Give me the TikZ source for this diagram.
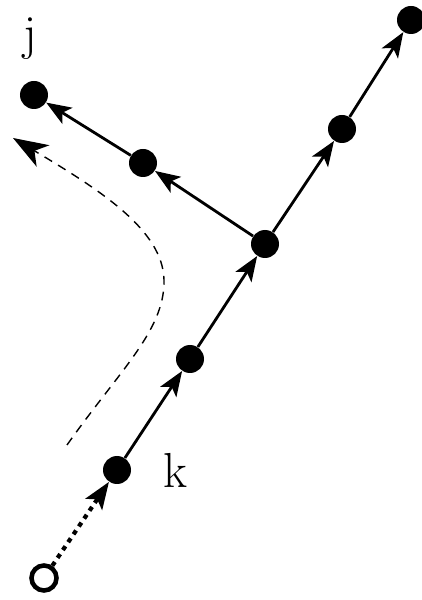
\documentclass[tikz,border=0pt]{standalone}
\usepackage{tikz}
\usetikzlibrary{arrows.meta}

\begin{document}
\begin{tikzpicture}[
    dot/.style={
        circle,
        fill=black,
        inner sep=0pt,
        minimum size=0.56cm
    },
    opendot/.style={
        circle,
        draw=black,
        line width=2.6pt,
        inner sep=0pt,
        minimum size=0.5cm
    },
    lbl/.style={
        font=\fontsize{28}{30}\selectfont
    },
    arrow/.style={-{Stealth[length=5mm, width=3.8mm, inset=1.2mm]}, line width=1.6pt},
    dotarrow/.style={-{Stealth[length=5.4mm, width=4mm, inset=1.2mm]}, line width=2.4pt,
        dash pattern=on 2.6pt off 2.8pt},
    path/.style={-{Stealth[length=7mm, width=5mm, inset=2mm, fill=black]}, line width=0.8pt,
        dash pattern=on 5pt off 4pt}
]
\useasboundingbox (0,0) rectangle (8.42,12);

% main chain
\node[opendot] (o) at (0.88,0.44) {};
\node[dot] (k) at (2.34,2.6) {};
\node[dot] (mid) at (3.8,4.82) {};
\node[dot] (hub) at (5.3,7.12) {};
\node[dot] (upper) at (6.84,9.42) {};
\node[dot] (top) at (8.22,11.6) {};

% side branch
\node[dot] (side) at (2.86,8.74) {};
\node[dot] (j) at (0.68,10.1) {};

\node[lbl] (jlabel) at (0.6,11.22) {j};
\node[lbl] (klabel) at (3.5,2.6) {k};

\draw[dotarrow] (o) -- (k);
\draw[arrow] (k) -- (mid);
\draw[arrow] (mid) -- (hub);
\draw[arrow] (hub) -- (upper);
\draw[arrow] (upper) -- (top);
\draw[arrow] (hub) -- (side);
\draw[arrow] (side) -- (j);

% path taken
\coordinate (pstart) at (1.34,3.1);
\coordinate (pturn) at (3.28,6.4);
\coordinate (pend) at (0.26,9.24);
\draw[path] (pstart) .. controls (2.4,4.6) and (3.3,5.4) .. (pturn)
    .. controls (3.26,7.4) and (2.0,8.2) .. (pend);

\end{tikzpicture}
\end{document}
